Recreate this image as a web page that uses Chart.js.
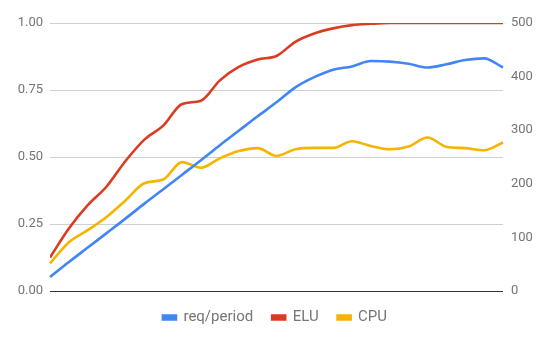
<!DOCTYPE html>
<html>
<head>
<meta charset="utf-8">
<script src="https://cdn.jsdelivr.net/npm/chart.js@4/dist/chart.umd.min.js"></script>
<style>
  html, body { margin: 0; padding: 0; background: #fff; }
  #wrap { width: 550px; height: 340px; position: relative; }
</style>
</head>
<body>
<div id="wrap"><canvas id="chart"></canvas></div>
<script>
// sampling periods along the x axis
const periods = [1, 2, 3, 4, 5, 6, 7, 8, 9, 10, 11, 12, 13, 14, 15, 16, 17, 18, 19, 20, 21, 22, 23, 24, 25]

// requests per period (right axis)
const reqPerPeriod = [26, 54, 81, 108, 135, 163, 190, 217, 244, 272, 299, 326, 352, 380, 399, 413, 419, 429, 428, 424, 417, 423, 431, 434, 417]

// event loop utilization and cpu usage (left axis, 0..1)
const elu = [0.125, 0.233, 0.32, 0.39, 0.485, 0.565, 0.617, 0.698, 0.71, 0.786, 0.836, 0.864, 0.877, 0.93, 0.961, 0.98, 0.992, 0.997, 1, 1, 1, 1, 1, 1, 1]
const cpu = [0.103, 0.182, 0.227, 0.276, 0.338, 0.402, 0.416, 0.481, 0.46, 0.495, 0.522, 0.533, 0.504, 0.529, 0.534, 0.534, 0.559, 0.541, 0.529, 0.539, 0.573, 0.538, 0.533, 0.525, 0.554]

const leftTicks = [0, 0.25, 0.5, 0.75, 1]
const rightTicks = [0, 100, 200, 300, 400, 500]

document.addEventListener('DOMContentLoaded', () => {
  const textColor = '#757575'
  const font = { family: 'Roboto', size: 13 }

  const line = (label, data, color, axis) => ({
    label,
    data,
    yAxisID: axis,
    borderColor: color,
    backgroundColor: color,
    borderWidth: 2.6,
    pointRadius: 0,
    pointHoverRadius: 0,
    cubicInterpolationMode: 'monotone',
    fill: false,
  })

  const eluLine = line('ELU', elu, '#db3b21', 'y')
  // the flat run at 1.00 sits on the top edge, so let it be cut by the plot area
  eluLine.clip = 0

  new Chart(document.getElementById('chart'), {
    type: 'line',
    data: {
      labels: periods,
      datasets: [
        line('req/period', reqPerPeriod, '#4285f4', 'y1'),
        eluLine,
        line('CPU', cpu, '#f4b400', 'y'),
      ],
    },
    options: {
      responsive: true,
      maintainAspectRatio: false,
      animation: false,
      layout: { padding: { top: 23, bottom: 5, left: 0, right: 0 } },
      plugins: {
        tooltip: { enabled: false },
        legend: {
          position: 'bottom',
          labels: {
            color: textColor,
            font: { family: 'Roboto', size: 15 },
            boxWidth: 13,
            boxHeight: 4,
            padding: 19,
          },
        },
      },
      scales: {
        x: { display: false },
        y: {
          position: 'left',
          min: 0,
          max: 1,
          afterBuildTicks: (axis) => { axis.ticks = leftTicks.map(v => ({ value: v })) },
          afterFit: (axis) => { axis.width = 50 },
          border: { display: false },
          grid: {
            drawTicks: false,
            lineWidth: 1,
            color: (ctx) => ctx.tick && ctx.tick.value === 0 ? '#333333' : '#d0d0d0',
          },
          ticks: {
            color: textColor,
            font,
            padding: 7,
            callback: (v) => Number(v).toFixed(2),
          },
        },
        y1: {
          position: 'right',
          min: 0,
          max: 500,
          afterBuildTicks: (axis) => { axis.ticks = rightTicks.map(v => ({ value: v })) },
          afterFit: (axis) => { axis.width = 47 },
          border: { display: false },
          grid: { display: false, drawTicks: false },
          ticks: { color: textColor, font, padding: 8 },
        },
      },
    },
  })
})
</script>
</body>
</html>
